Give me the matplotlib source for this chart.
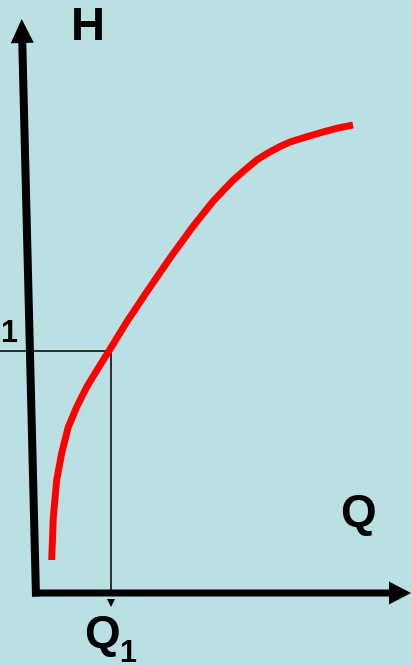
import matplotlib
matplotlib.use('Agg')
import matplotlib.pyplot as plt
import numpy as np

# pump curve H(Q) (origin at axis corner)
q = [15.7, 17.3, 20.7, 25.7, 32.3, 40.7, 50.7, 62.3, 72.3, 90.7, 110.7, 134, 157.3, 177.3,
     197.3, 210, 220.7, 232, 243, 254, 270, 287, 302, 317]
h = [35, 78, 115, 142, 168, 188, 208, 227, 243, 273, 303, 337, 369, 394,
     415, 426, 435, 442, 448, 453, 458, 463, 467, 470]

q1 = 75
h1 = 244

bg = '#bae0e3'
fig = plt.figure(figsize=(4.11, 6.66), dpi=100)
fig.patch.set_facecolor(bg)
ax = fig.add_axes([0, 0, 1, 1])
ax.set_facecolor(bg)
ax.set_xlim(-36, 375)
ax.set_ylim(-71, 595)
ax.axis('off')

# guide lines to the operating point
ax.plot([-36, q1], [h1, h1], color='k', lw=1.1)
ax.plot([q1, q1], [0, h1], color='k', lw=1.1)
ax.plot(q1, -8, marker='v', color='k', ms=6, mew=0)

# axes with arrows (data units are ~1 px)
ax.arrow(0, -1.5, -14.3, 577.5, width=8, head_width=23, head_length=24,
         length_includes_head=True, color='k', lw=0)
ax.arrow(-4, 2, 379, 0, width=7, head_width=23, head_length=22,
         length_includes_head=True, color='k', lw=0)

ax.plot(q, h, color='#ff0000', lw=5, solid_capstyle='butt', solid_joinstyle='round')

fp = dict(family='Liberation Sans', weight='bold', color='k')
ax.text(52, 567, 'H', fontsize=34, ha='center', va='center', **fp)
ax.text(322, 80, 'Q', fontsize=33, ha='center', va='center', **fp)
ax.text(66, -41, 'Q', fontsize=33, ha='center', va='center', **fp)
ax.text(92, -59, '1', fontsize=22, ha='center', va='center', **fp)
ax.text(-27, 261, '1', fontsize=22, ha='center', va='center', **fp)

fig.savefig('out.png', dpi=100, facecolor=bg)
